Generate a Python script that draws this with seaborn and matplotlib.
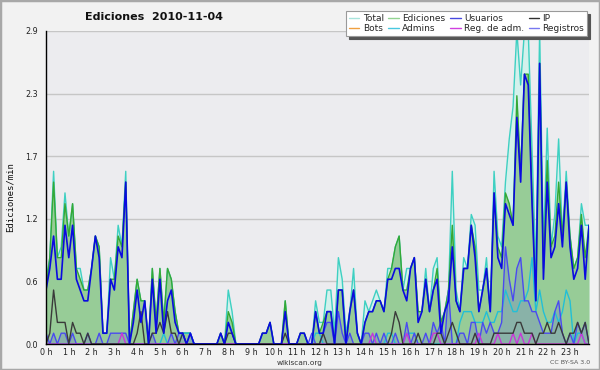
import matplotlib
matplotlib.use('Agg')
import numpy as np
import pandas as pd
import seaborn as sns
import matplotlib.pyplot as plt
from matplotlib.lines import Line2D
from matplotlib.patches import Rectangle

# 10-minute bins, edits per minute (6 values per hour, 0 h .. 23 h)
total = [
    0.6, 0.8, 1.6, 0.8, 0.9, 1.4,
    1.0, 1.3, 0.7, 0.7, 0.5, 0.5,
    0.7, 1.0, 0.9, 0.1, 0.1, 0.8,
    0.6, 1.1, 0.9, 1.6, 0.0, 0.3,
    0.6, 0.4, 0.4, 0.0, 0.7, 0.2,
    0.7, 0.2, 0.7, 0.6, 0.3, 0.1,
    0.1, 0.1, 0.1, 0.0, 0.0, 0.0,
    0.0, 0.0, 0.0, 0.0, 0.1, 0.0,
    0.5, 0.3, 0.0, 0.0, 0.0, 0.0,
    0.0, 0.0, 0.0, 0.1, 0.1, 0.2,
    0.0, 0.0, 0.0, 0.4, 0.0, 0.0,
    0.0, 0.1, 0.1, 0.0, 0.0, 0.4,
    0.2, 0.2, 0.5, 0.5, 0.1, 0.8,
    0.6, 0.1, 0.3, 0.7, 0.1, 0.0,
    0.4, 0.3, 0.4, 0.5, 0.4, 0.3,
    0.7, 0.7, 0.9, 1.0, 0.5, 0.7,
    0.7, 0.8, 0.3, 0.3, 0.7, 0.3,
    0.7, 0.8, 0.2, 0.3, 0.5, 1.6,
    0.5, 0.3, 0.8, 0.7, 1.2, 1.1,
    0.5, 0.5, 0.8, 0.3, 1.6, 1.0,
    0.9, 1.5, 1.9, 2.2, 2.9, 2.4,
    2.9, 2.9, 1.8, 0.7, 2.9, 0.9,
    2.0, 0.9, 1.2, 1.9, 1.0, 1.6,
    1.0, 0.7, 0.8, 1.3, 1.1, 1.1,
]
ediciones = [
    0.5, 0.8, 1.5, 0.8, 0.8, 1.3,
    1.0, 1.3, 0.7, 0.6, 0.5, 0.5,
    0.7, 1.0, 0.9, 0.1, 0.1, 0.6,
    0.6, 1.0, 0.9, 1.5, 0.0, 0.3,
    0.6, 0.4, 0.4, 0.0, 0.7, 0.2,
    0.7, 0.2, 0.7, 0.6, 0.3, 0.1,
    0.1, 0.1, 0.1, 0.0, 0.0, 0.0,
    0.0, 0.0, 0.0, 0.0, 0.1, 0.0,
    0.3, 0.2, 0.0, 0.0, 0.0, 0.0,
    0.0, 0.0, 0.0, 0.1, 0.1, 0.2,
    0.0, 0.0, 0.0, 0.4, 0.0, 0.0,
    0.0, 0.1, 0.1, 0.0, 0.0, 0.3,
    0.1, 0.2, 0.3, 0.3, 0.0, 0.5,
    0.5, 0.0, 0.3, 0.5, 0.1, 0.0,
    0.2, 0.3, 0.3, 0.4, 0.4, 0.3,
    0.6, 0.7, 0.9, 1.0, 0.5, 0.5,
    0.7, 0.8, 0.3, 0.3, 0.6, 0.3,
    0.5, 0.7, 0.2, 0.3, 0.5, 1.1,
    0.4, 0.3, 0.7, 0.7, 1.1, 0.9,
    0.3, 0.5, 0.7, 0.3, 1.4, 0.9,
    0.8, 1.4, 1.3, 1.1, 2.3, 1.6,
    2.5, 2.5, 1.4, 0.4, 2.6, 0.7,
    1.7, 0.9, 1.0, 1.5, 1.0, 1.5,
    1.0, 0.7, 0.8, 1.2, 0.8, 1.1,
]
usuarios = [
    0.5, 0.7, 1.0, 0.6, 0.6, 1.1,
    0.8, 1.1, 0.6, 0.5, 0.4, 0.4,
    0.7, 1.0, 0.8, 0.1, 0.1, 0.6,
    0.5, 0.9, 0.8, 1.5, 0.0, 0.2,
    0.5, 0.2, 0.4, 0.0, 0.6, 0.1,
    0.6, 0.1, 0.4, 0.5, 0.2, 0.1,
    0.1, 0.0, 0.1, 0.0, 0.0, 0.0,
    0.0, 0.0, 0.0, 0.0, 0.1, 0.0,
    0.2, 0.1, 0.0, 0.0, 0.0, 0.0,
    0.0, 0.0, 0.0, 0.1, 0.1, 0.2,
    0.0, 0.0, 0.0, 0.3, 0.0, 0.0,
    0.0, 0.1, 0.1, 0.0, 0.0, 0.3,
    0.1, 0.1, 0.3, 0.3, 0.0, 0.5,
    0.5, 0.0, 0.3, 0.5, 0.1, 0.0,
    0.2, 0.3, 0.3, 0.4, 0.4, 0.3,
    0.6, 0.6, 0.7, 0.7, 0.5, 0.4,
    0.7, 0.8, 0.2, 0.3, 0.6, 0.3,
    0.5, 0.6, 0.1, 0.3, 0.4, 0.9,
    0.4, 0.3, 0.7, 0.7, 1.1, 0.8,
    0.3, 0.5, 0.7, 0.3, 1.4, 0.8,
    0.7, 1.3, 1.2, 1.1, 2.1, 1.5,
    2.5, 2.4, 1.3, 0.4, 2.6, 0.6,
    1.5, 0.8, 0.9, 1.3, 0.9, 1.5,
    0.9, 0.6, 0.7, 1.1, 0.6, 1.1,
]
ip = [
    0.0, 0.1, 0.5, 0.2, 0.2, 0.2,
    0.0, 0.2, 0.1, 0.1, 0.0, 0.1,
    0.0, 0.0, 0.0, 0.0, 0.0, 0.0,
    0.0, 0.0, 0.0, 0.0, 0.0, 0.0,
    0.1, 0.3, 0.0, 0.0, 0.1, 0.1,
    0.2, 0.1, 0.3, 0.1, 0.1, 0.0,
    0.1, 0.0, 0.0, 0.0, 0.0, 0.0,
    0.0, 0.0, 0.0, 0.0, 0.0, 0.0,
    0.1, 0.1, 0.0, 0.0, 0.0, 0.0,
    0.0, 0.0, 0.0, 0.0, 0.0, 0.0,
    0.0, 0.0, 0.0, 0.1, 0.0, 0.0,
    0.0, 0.0, 0.0, 0.0, 0.0, 0.0,
    0.0, 0.1, 0.0, 0.0, 0.0, 0.0,
    0.0, 0.0, 0.0, 0.0, 0.0, 0.0,
    0.0, 0.0, 0.0, 0.0, 0.0, 0.0,
    0.0, 0.1, 0.3, 0.2, 0.0, 0.0,
    0.0, 0.0, 0.1, 0.0, 0.0, 0.0,
    0.0, 0.1, 0.1, 0.0, 0.1, 0.2,
    0.1, 0.0, 0.0, 0.0, 0.0, 0.1,
    0.0, 0.0, 0.0, 0.0, 0.1, 0.1,
    0.1, 0.1, 0.1, 0.1, 0.2, 0.2,
    0.1, 0.1, 0.1, 0.0, 0.1, 0.1,
    0.2, 0.1, 0.1, 0.2, 0.1, 0.0,
    0.1, 0.1, 0.2, 0.1, 0.2, 0.0,
]
bots = [0.0] * 144
admins = [
    0.0, 0.0, 0.0, 0.0, 0.0, 0.0,
    0.0, 0.0, 0.0, 0.0, 0.0, 0.0,
    0.0, 0.0, 0.0, 0.0, 0.0, 0.0,
    0.0, 0.0, 0.0, 0.0, 0.0, 0.0,
    0.0, 0.0, 0.0, 0.0, 0.0, 0.0,
    0.0, 0.1, 0.0, 0.0, 0.0, 0.0,
    0.1, 0.1, 0.1, 0.0, 0.0, 0.0,
    0.0, 0.0, 0.0, 0.0, 0.0, 0.0,
    0.2, 0.1, 0.0, 0.0, 0.0, 0.0,
    0.0, 0.0, 0.0, 0.0, 0.0, 0.0,
    0.0, 0.0, 0.0, 0.0, 0.0, 0.0,
    0.0, 0.0, 0.0, 0.0, 0.0, 0.1,
    0.1, 0.0, 0.0, 0.0, 0.0, 0.0,
    0.0, 0.0, 0.0, 0.0, 0.0, 0.0,
    0.0, 0.0, 0.0, 0.0, 0.0, 0.0,
    0.1, 0.1, 0.0, 0.0, 0.0, 0.1,
    0.1, 0.1, 0.0, 0.0, 0.0, 0.0,
    0.0, 0.0, 0.0, 0.0, 0.0, 0.0,
    0.0, 0.2, 0.3, 0.3, 0.3, 0.2,
    0.2, 0.2, 0.3, 0.2, 0.2, 0.3,
    0.3, 0.5, 0.4, 0.3, 0.3, 0.4,
    0.4, 0.5, 0.8, 0.3, 0.5, 0.3,
    0.2, 0.2, 0.3, 0.2, 0.3, 0.5,
    0.4, 0.0, 0.1, 0.1, 0.0, 0.0,
]
reg_adm = [
    0.0, 0.0, 0.0, 0.0, 0.0, 0.0,
    0.0, 0.0, 0.0, 0.0, 0.0, 0.0,
    0.0, 0.0, 0.0, 0.0, 0.0, 0.0,
    0.0, 0.0, 0.1, 0.0, 0.0, 0.0,
    0.0, 0.0, 0.0, 0.0, 0.0, 0.0,
    0.0, 0.0, 0.0, 0.0, 0.0, 0.0,
    0.0, 0.0, 0.0, 0.0, 0.0, 0.0,
    0.0, 0.0, 0.0, 0.0, 0.0, 0.0,
    0.0, 0.0, 0.0, 0.0, 0.0, 0.0,
    0.0, 0.0, 0.0, 0.0, 0.0, 0.0,
    0.0, 0.0, 0.0, 0.0, 0.0, 0.0,
    0.0, 0.0, 0.0, 0.0, 0.0, 0.0,
    0.0, 0.0, 0.0, 0.0, 0.0, 0.0,
    0.0, 0.0, 0.0, 0.0, 0.0, 0.0,
    0.0, 0.0, 0.1, 0.0, 0.0, 0.0,
    0.0, 0.0, 0.0, 0.0, 0.0, 0.1,
    0.0, 0.0, 0.0, 0.0, 0.0, 0.0,
    0.1, 0.1, 0.0, 0.0, 0.0, 0.0,
    0.0, 0.0, 0.0, 0.0, 0.0, 0.0,
    0.1, 0.0, 0.0, 0.0, 0.0, 0.1,
    0.0, 0.0, 0.0, 0.1, 0.0, 0.1,
    0.0, 0.0, 0.1, 0.0, 0.0, 0.0,
    0.0, 0.0, 0.0, 0.0, 0.0, 0.0,
    0.0, 0.0, 0.0, 0.1, 0.0, 0.0,
]
registros = [
    0.1, 0.0, 0.1, 0.0, 0.1, 0.1,
    0.0, 0.1, 0.0, 0.0, 0.0, 0.1,
    0.0, 0.0, 0.1, 0.0, 0.0, 0.1,
    0.1, 0.1, 0.1, 0.1, 0.0, 0.0,
    0.0, 0.0, 0.0, 0.0, 0.1, 0.0,
    0.0, 0.0, 0.0, 0.1, 0.0, 0.1,
    0.1, 0.0, 0.1, 0.0, 0.0, 0.0,
    0.0, 0.0, 0.0, 0.0, 0.0, 0.0,
    0.0, 0.0, 0.0, 0.0, 0.0, 0.0,
    0.0, 0.0, 0.0, 0.0, 0.0, 0.0,
    0.0, 0.0, 0.0, 0.0, 0.0, 0.0,
    0.0, 0.0, 0.0, 0.0, 0.1, 0.0,
    0.0, 0.1, 0.2, 0.2, 0.0, 0.3,
    0.1, 0.0, 0.1, 0.0, 0.0, 0.0,
    0.1, 0.1, 0.0, 0.1, 0.0, 0.1,
    0.0, 0.0, 0.1, 0.0, 0.0, 0.2,
    0.0, 0.1, 0.0, 0.0, 0.1, 0.0,
    0.2, 0.1, 0.2, 0.0, 0.5, 0.0,
    0.0, 0.1, 0.1, 0.0, 0.2, 0.2,
    0.0, 0.2, 0.1, 0.2, 0.1, 0.1,
    0.2, 0.9, 0.6, 0.4, 0.7, 0.8,
    0.4, 0.4, 0.3, 0.3, 0.2, 0.1,
    0.1, 0.1, 0.3, 0.4, 0.1, 0.0,
    0.1, 0.0, 0.2, 0.1, 0.2, 0.0,
]

hour_labels = [f'{h} h' for h in range(24)]
y_ticks = [0.0, 0.58, 1.16, 1.74, 2.32, 2.9]
y_labels = ['0.0', '0.6', '1.2', '1.7', '2.3', '2.9']

df = pd.DataFrame({
    'slot': np.arange(len(total)),
    'Total': total, 'Ediciones': ediciones, 'Usuarios': usuarios, 'IP': ip,
    'Bots': bots, 'Admins': admins, 'Reg. de adm.': reg_adm, 'Registros': registros,
})

sns.set_style('white')
plt.rcParams['font.family'] = ['DejaVu Sans']

fig = plt.figure(figsize=(6, 3.7), dpi=100)
fig.patch.set_facecolor('#f2f2f2')
ax = fig.add_axes([46 / 600, 26 / 370, 543 / 600, 313 / 370])
ax.set_facecolor('#ececef')

# fills
ax.fill_between(df['slot'], df['Total'], color='#d3f1ec', lw=0, zorder=1)
ax.fill_between(df['slot'], df['Ediciones'], color='#97cc97', lw=0, zorder=1.1)
ax.fill_between(df['slot'], df['Registros'], color='#5a5ae8', alpha=0.22, lw=0, zorder=1.2)

# lines (drawing order, colour, width)
line_styles = [
    ('Total', '#3ed0c2', 1.0),
    ('Ediciones', '#35a835', 1.0),
    ('Bots', '#f0a030', 1.0),
    ('Admins', '#22bfd6', 1.0),
    ('Registros', '#4a4af0', 1.0),
    ('Reg. de adm.', '#c836d8', 1.0),
    ('IP', '#3a3a3a', 1.0),
    ('Usuarios', '#0a0ae0', 1.2),
]
for i, (col, color, lw) in enumerate(line_styles):
    sns.lineplot(data=df, x='slot', y=col, color=color, lw=lw, ax=ax,
                 legend=False, estimator=None, sort=False, zorder=2 + i * 0.1)

ax.set_xlim(0, 143)
ax.set_ylim(0, 2.9)
ax.set_xlabel('')
ax.set_ylabel('')

ax.set_xticks(range(0, 144, 6))
ax.set_xticklabels(hour_labels)
ax.set_xticks(range(0, 144), minor=True)
ax.set_yticks(y_ticks)
ax.set_yticklabels(y_labels)
ax.set_yticks(np.arange(0, 2.91, 0.145), minor=True)

ax.yaxis.grid(True, which='major', color='#c6c6c6', lw=1)
ax.set_axisbelow(True)

for s in ['top', 'right']:
    ax.spines[s].set_visible(False)
for s in ['left', 'bottom']:
    ax.spines[s].set_color('black')
    ax.spines[s].set_linewidth(1)
    ax.spines[s].set_zorder(5)

ax.tick_params(axis='x', which='major', direction='out', length=2.4, width=0.8,
               labelsize=5.8, pad=0.2, colors='black', labelcolor='#222')
ax.tick_params(axis='x', which='minor', direction='out', length=2.2, width=0.8, colors='black')
ax.tick_params(axis='y', which='major', direction='out', length=5, width=0.8,
               labelsize=5.8, pad=1, colors='black', labelcolor='#222')
ax.tick_params(axis='y', which='minor', direction='out', length=3, width=0.8, colors='black')

fig.text(154 / 600, 1 - 17 / 370, 'Ediciones  2010-11-04', ha='center', va='center',
         fontsize=8, fontweight='bold', color='#111')
fig.text(10 / 600, 1 - 197 / 370, 'Ediciones/min', rotation=90, ha='center', va='center',
         fontsize=6.5, family='DejaVu Sans Mono', color='#111')
fig.text(300 / 600, 1 - 362.5 / 370, 'wikiscan.org', ha='center', va='center',
         fontsize=5.3, color='#333')
fig.text(590 / 600, 1 - 362.5 / 370, 'CC BY-SA 3.0', ha='right', va='center',
         fontsize=4.5, color='#555')

# legend, filled column by column (4 columns x 2 rows)
legend_items = [
    ('Total', '#a8e4dc'), ('Bots', '#f0a040'),
    ('Ediciones', '#92d492'), ('Admins', '#48c8e0'),
    ('Usuarios', '#4848e0'), ('Reg. de adm.', '#d040e0'),
    ('IP', '#303030'), ('Registros', '#7878f0'),
]
handles = [Line2D([], [], color=c, lw=1) for _, c in legend_items]
labels = [n for n, _ in legend_items]
leg = fig.legend(handles, labels, ncol=4, loc='upper right',
                 bbox_to_anchor=(587 / 600, 1 - 11 / 370), fontsize=6.5,
                 frameon=True, fancybox=False, framealpha=1, facecolor='white',
                 edgecolor='#9a9a9a', shadow={'color': '#555555', 'alpha': 1},
                 borderpad=0.3, labelspacing=0.15, handlelength=1.2,
                 handletextpad=0.35, columnspacing=0.5, borderaxespad=0)
leg.get_frame().set_linewidth(0.8)

fig.add_artist(Rectangle((0, 0), 1, 1, transform=fig.transFigure, fill=False,
                         edgecolor='#a8a8a8', lw=2.5))

fig.savefig('out.png', dpi=100, facecolor=fig.get_facecolor())
